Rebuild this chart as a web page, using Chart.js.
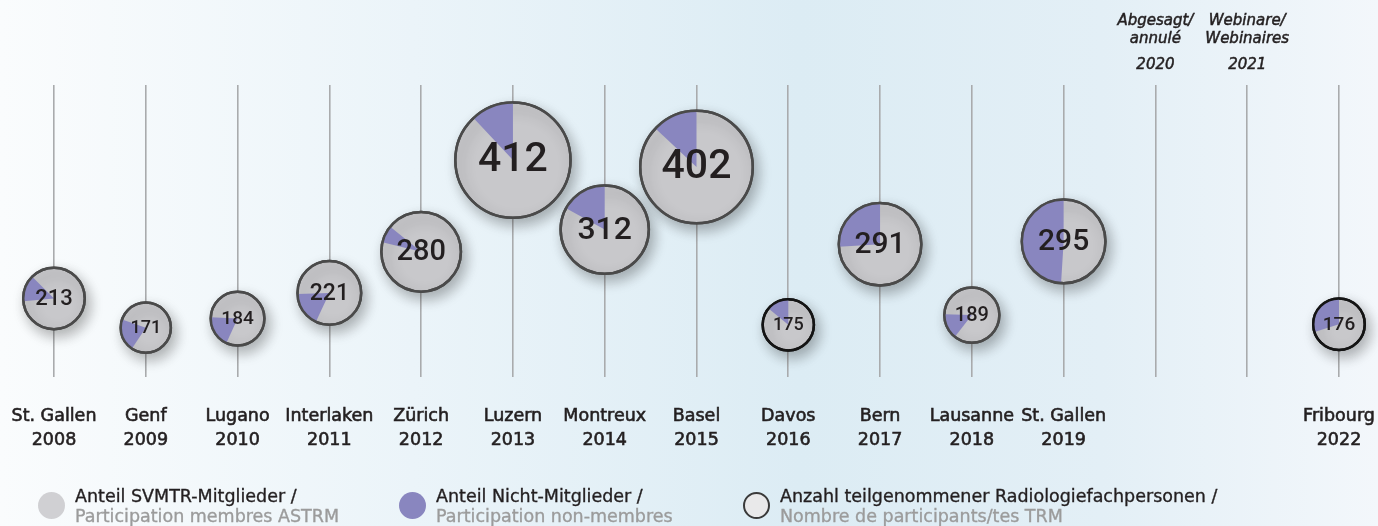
<!DOCTYPE html>
<html lang="de">
<head>
<meta charset="utf-8">
<title>Teilnehmende 2008–2022</title>
<script src="https://cdn.jsdelivr.net/npm/chart.js@4.4.1/dist/chart.umd.min.js"></script>
<style>
  html, body { margin: 0; padding: 0; }
  body {
    width: 1378px; height: 526px; overflow: hidden;
    font-family: 'DejaVu Sans', sans-serif;
    background: linear-gradient(90deg, #fafcfd 0%, #ebf4f9 30%, #dcecf4 58%, #e3eff6 80%, #f3f7fb 100%);
  }
  #wrap { position: relative; width: 1378px; height: 526px; }
  #legend { position: absolute; left: 0; top: 486px; width: 1378px; height: 40px; }
  .item { position: absolute; top: 0; }
  .dot { position: absolute; left: -37px; top: 6px; width: 27px; height: 27px; border-radius: 50%; box-sizing: border-box; }
  .txt { font-size: 17.5px; line-height: 20px; white-space: nowrap; -webkit-text-stroke: 0.35px currentColor; }
  .de { color: #231f20; }
  .fr { color: #9b9b9b; }
</style>
</head>
<body>
<div id="wrap">
  <canvas id="chart" width="1378" height="526"></canvas>
  <div id="legend"></div>
</div>
<script>
// data
const years = ['2008', '2009', '2010', '2011', '2012', '2013', '2014', '2015', '2016', '2017', '2018', '2019', '2020', '2021', '2022'];
const cities = ['St. Gallen', 'Genf', 'Lugano', 'Interlaken', 'Zürich', 'Luzern', 'Montreux', 'Basel', 'Davos', 'Bern', 'Lausanne', 'St. Gallen', '', '', 'Fribourg'];
const participants = [213, 171, 184, 221, 280, 412, 312, 402, 175, 291, 189, 295, null, null, 176];
const nonMemberShare = [0.14, 0.21, 0.19, 0.175, 0.07, 0.12, 0.17, 0.13, 0.14, 0.26, 0.15, 0.49, null, null, 0.30];
const notes = ['', '', '', '', '', '', '', '', '', '', '', '', ['Abgesagt/', 'annulé'], ['Webinare/', 'Webinaires'], ''];
const legendDe = ['Anteil SVMTR-Mitglieder /', 'Anteil Nicht-Mitglieder /', 'Anzahl teilgenommener Radiologiefachpersonen /'];
const legendFr = ['Participation membres ASTRM', 'Participation non-membres', 'Nombre de participants/tes TRM'];

// styles
const LABEL_FONT = "'DejaVu Sans', sans-serif";
const NUM_FONT = "Roboto, 'Liberation Sans', Arial, sans-serif";
const GREY = '#c8c8cb';
const PURPLE = '#8986bf';
const INK = '#231f20';
// angle (deg, canvas clockwise from 3 o'clock) where each purple wedge begins
const wedgeStart = [225, 199, 183, 178, 219, 270, 270, 270, 270, 270, 182, 270, null, null, 270];

Chart.defaults.font.family = LABEL_FONT;

const bottomLabels = years.map((y, i) => cities[i] ? [cities[i], y] : '');
const yearLabels = years.map((y, i) => notes[i] ? y : '');

const piePlugin = {
    id: 'pieBubbles',
    beforeDatasetDraw(chart) {
        const c = chart.ctx;
        c.save();
        c.shadowColor = 'rgba(0,0,0,0.3)';
        c.shadowBlur = 14;
        c.shadowOffsetX = 4;
        c.shadowOffsetY = 6;
    },
    afterDatasetDraw(chart, args) {
        const c = chart.ctx;
        c.restore();
        args.meta.data.forEach((pt, i) => {
            if (participants[i] == null) return;
            const x = pt.x, y = pt.y;
            const r = pt.options.radius;
            const a0 = wedgeStart[i] * Math.PI / 180;
            const a1 = a0 - nonMemberShare[i] * 2 * Math.PI;
            c.save();
            c.beginPath();
            c.moveTo(x, y);
            c.arc(x, y, r, a0, a1, true);
            c.closePath();
            c.fillStyle = PURPLE;
            c.fill();
            c.beginPath();
            c.arc(x, y, r, 0, 2 * Math.PI);
            c.lineWidth = pt.options.borderWidth;
            c.strokeStyle = pt.options.borderColor;
            c.stroke();
            c.fillStyle = INK;
            c.font = '500 ' + Math.round(r * 0.72) + 'px ' + NUM_FONT;
            c.textAlign = 'center';
            c.textBaseline = 'middle';
            c.fillText(String(participants[i]), x, y + 1);
            c.restore();
        });
    }
};

const hiddenGrid = (len) => ({ display: true, drawOnChartArea: false, color: 'transparent', tickColor: 'transparent', drawTicks: true, tickLength: len });
const italic = { size: 15, style: 'italic', lineHeight: 18 / 15 };

new Chart(document.getElementById('chart'), {
    type: 'bubble',
    data: {
        datasets: [{
            data: participants.map((v, i) => ({ x: i, y: v })),
            backgroundColor: GREY,
            borderColor: ctx => (years[ctx.dataIndex] === '2016' || years[ctx.dataIndex] === '2022') ? '#141414' : '#4a4a4a',
            borderWidth: 2.5,
            radius: ctx => (ctx.raw && ctx.raw.y) ? 2 + ctx.raw.y * 0.135 : 0,
            hoverRadius: 0,
            clip: false
        }]
    },
    options: {
        responsive: false,
        animation: false,
        events: [],
        layout: { autoPadding: false, padding: { left: 54, right: 39, top: 11, bottom: 71 } },
        plugins: { legend: { display: false }, tooltip: { enabled: false } },
        scales: {
            x: {
                type: 'category',
                labels: bottomLabels,
                offset: false,
                grid: { color: '#a9abad', lineWidth: 1.6, drawTicks: true, tickLength: 24, tickColor: 'transparent' },
                border: { display: false },
                ticks: {
                    autoSkip: false, maxRotation: 0, padding: 3, color: INK,
                    textStrokeColor: INK, textStrokeWidth: 0.6,
                    font: { size: 17.5, lineHeight: 24 / 17.5 }
                }
            },
            xYear: {
                type: 'category',
                position: 'top',
                weight: 0,
                labels: yearLabels,
                offset: false,
                grid: hiddenGrid(10),
                border: { display: false },
                ticks: { autoSkip: false, maxRotation: 0, padding: 1, color: INK, textStrokeColor: INK, textStrokeWidth: 0.5, font: italic }
            },
            xNote: {
                type: 'category',
                position: 'top',
                weight: 1,
                labels: notes,
                offset: false,
                grid: hiddenGrid(6),
                border: { display: false },
                ticks: { autoSkip: false, maxRotation: 0, padding: 1, color: INK, textStrokeColor: INK, textStrokeWidth: 0.5, font: italic }
            },
            y: { display: false, min: 100, max: 520 }
        }
    },
    plugins: [piePlugin]
});

// legend
const legendEl = document.getElementById('legend');
const textLeft = [75, 436, 780];
const dotStyle = [
    'background:#d0d0d3;',
    'background:' + PURPLE + ';',
    'background:#e9e9ea;border:2.5px solid #3a3a3a;'
];
legendDe.forEach((t, i) => {
    const item = document.createElement('div');
    item.className = 'item';
    item.style.left = textLeft[i] + 'px';
    item.innerHTML = '<div class="dot" style="' + dotStyle[i] + '"></div>' +
        '<div class="txt de">' + t + '</div><div class="txt fr">' + legendFr[i] + '</div>';
    legendEl.appendChild(item);
});
</script>
</body>
</html>
